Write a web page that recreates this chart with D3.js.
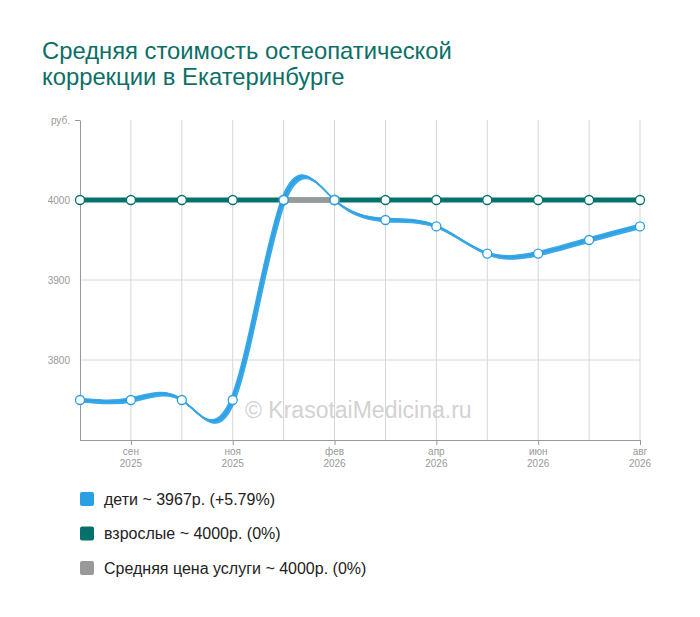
<!DOCTYPE html>
<html><head><meta charset="utf-8">
<script src="https://cdn.jsdelivr.net/npm/d3@7"></script>
<style>
body{margin:0;background:#fff;}
svg text{font-family:Arial,"Liberation Sans",sans-serif;}
</style></head>
<body><svg id="c" width="700" height="617"></svg>
<script>
const categories = ["авг 2025","сен 2025","окт 2025","ноя 2025","дек 2025","фев 2026","мар 2026","апр 2026","май 2026","июн 2026","июл 2026","авг 2026"];
const tickLabels = {"сен 2025":["сен","2025"],"ноя 2025":["ноя","2025"],"фев 2026":["фев","2026"],"апр 2026":["апр","2026"],"июн 2026":["июн","2026"],"авг 2026":["авг","2026"]};
const kids = [3750,3750,3750,3750,4000,4000,3975,3967,3933,3933,3950,3967];
const adults = [4000,4000,4000,4000,4000,4000,4000,4000,4000,4000,4000,4000];
const average = [null,null,null,null,4000,4000,null,null,null,null,null,null];
const yTicks = [3800,3900,4000];
const legendItems = ["дети ~ 3967р. (+5.79%)","взрослые ~ 4000р. (0%)","Средняя цена услуги ~ 4000р. (0%)"];
const colors = ["#2a9fe1","#04726a","#999999"];

const svg = d3.select("#c");
svg.append("text").attr("x",42).attr("y",59).attr("fill","#0b6f67").attr("font-size",23.8).text("Средняя стоимость остеопатической");
svg.append("text").attr("x",42).attr("y",85).attr("fill","#0b6f67").attr("font-size",23.8).text("коррекции в Екатеринбурге");

const x = d3.scalePoint().domain(categories).range([80,640]);
const y = d3.scaleLinear().domain([3700,4100]).range([440,120]);

const g = svg.append("g");
g.selectAll("line.vg").data(categories.slice(1)).enter().append("line")
 .attr("x1",d=>x(d)).attr("x2",d=>x(d)).attr("y1",120).attr("y2",440).attr("stroke","#d6d6d6").attr("stroke-width",1);
g.selectAll("line.hg").data(yTicks).enter().append("line")
 .attr("x1",80).attr("x2",640).attr("y1",d=>y(d)).attr("y2",d=>y(d)).attr("stroke","#d6d6d6");

svg.append("text").attr("x",245).attr("y",418).attr("font-size",23).attr("fill","#d2d2d2").text("© KrasotaiMedicina.ru");

const yAxis = d3.axisLeft(y).tickValues(yTicks.concat([4100])).tickSize(0).tickPadding(10).tickFormat(d=>d===4100?"руб.":d);
const ya = svg.append("g").attr("transform","translate(80,0)").call(yAxis);
ya.select(".domain").attr("stroke","#999");
ya.selectAll("text").attr("fill","#999").attr("font-size",10).attr("font-family",null);
svg.append("line").attr("x1",75).attr("x2",80).attr("y1",120.5).attr("y2",120.5).attr("stroke","#999");

const xAxis = d3.axisBottom(x).tickValues(Object.keys(tickLabels)).tickSize(5).tickFormat("");
const xa = svg.append("g").attr("transform","translate(0,440)").call(xAxis);
xa.select(".domain").attr("stroke","#999").attr("d","M80,0.5H640.5");
xa.selectAll(".tick line").attr("stroke","#999");
Object.keys(tickLabels).forEach(k=>{
  const t = svg.append("text").attr("x",x(k)).attr("text-anchor","middle").attr("fill","#999").attr("font-size",10);
  t.append("tspan").attr("x",x(k)).attr("y",455).text(tickLabels[k][0]);
  t.append("tspan").attr("x",x(k)).attr("y",467).text(tickLabels[k][1]);
});

const flatLine = d3.line().defined(d=>d!=null).x((d,i)=>x(categories[i])).y(d=>y(d));
svg.append("path").datum(adults).attr("d",flatLine).attr("fill","none").attr("stroke",colors[1]).attr("stroke-width",5);
svg.append("path").datum(average).attr("d",flatLine).attr("fill","none").attr("stroke",colors[2]).attr("stroke-width",5);

const kidLine = d3.line().x((d,i)=>x(categories[i])).y(d=>y(d)).curve(d3.curveNatural);
const kg = svg.append("g");
for(let k=-1.75;k<=1.76;k+=0.5){
  kg.append("path").datum(kids).attr("d",kidLine).attr("fill","none")
    .attr("stroke",Math.abs(k)<0.3?"#2a9fe1":"#3aa8e8").attr("stroke-width",1.3)
    .attr("transform",`translate(${k},${k})`);
}

function dots(data,color){
  svg.append("g").selectAll("circle").data(data.map((v,i)=>({v,i})).filter(d=>d.v!=null)).enter().append("circle")
   .attr("cx",d=>x(categories[d.i])).attr("cy",d=>y(d.v)).attr("r",4.5)
   .attr("fill","#fff").attr("stroke",color).attr("stroke-width",1.3);
}
dots(adults,colors[1]);
dots(average,colors[2]);
dots(kids,colors[0]);

const lg = svg.append("g");
legendItems.forEach((t,i)=>{
  const yy = 499 + i*34.5;
  lg.append("rect").attr("x",80).attr("y",yy-7).attr("width",14).attr("height",14).attr("rx",2).attr("fill",colors[i]);
  lg.append("text").attr("x",104).attr("y",yy+5.5).attr("font-size",16).attr("fill","#222").text(t);
});
</script></body></html>
